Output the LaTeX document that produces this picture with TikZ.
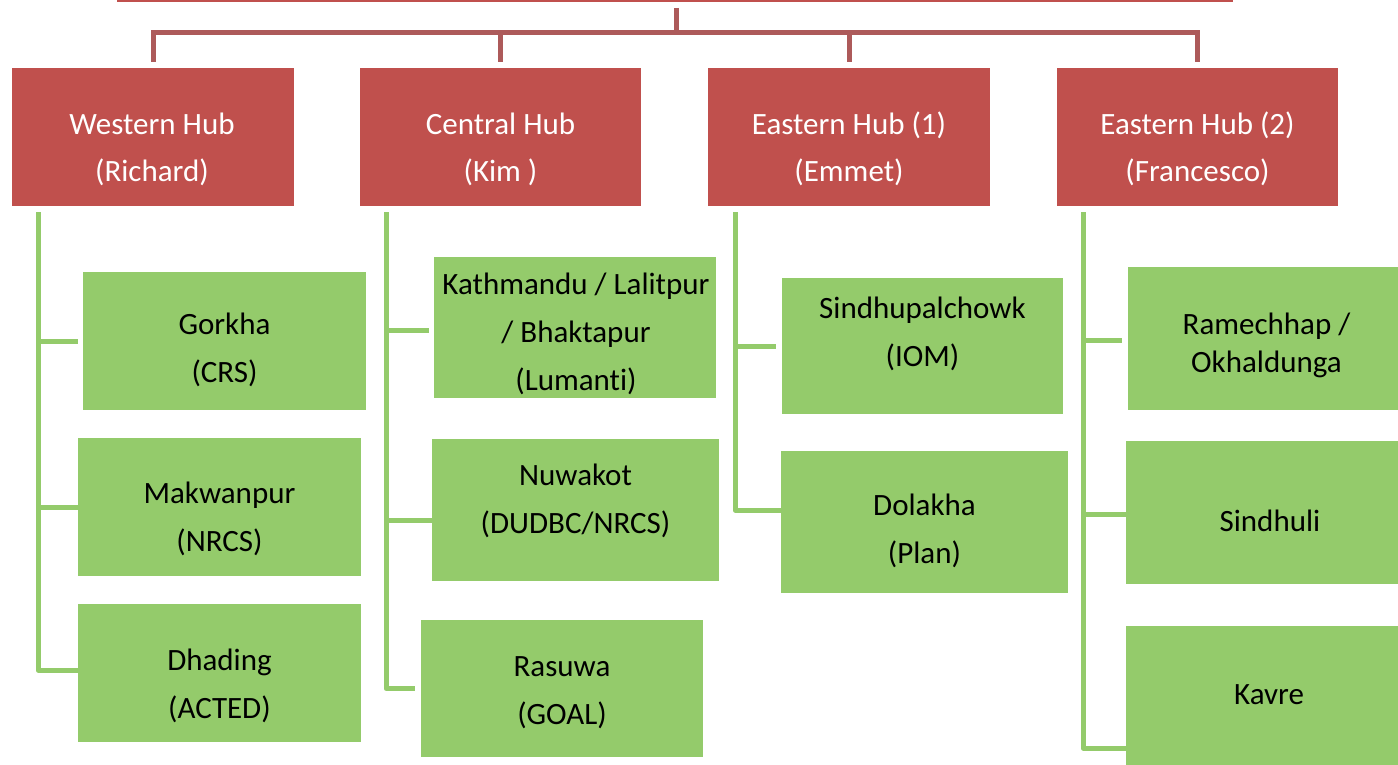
\documentclass[tikz,border=0pt]{standalone}
\usepackage{fontspec}
\setmainfont{Carlito}[Ligatures=NoCommon]
\definecolor{hubred}{HTML}{C0504D}
\definecolor{linered}{HTML}{AD5A5A}
\definecolor{leafgreen}{HTML}{94CB6B}
\begin{document}
\begin{tikzpicture}[x=1pt,y=-1pt,
  hubbox/.style={fill=hubred, draw=none, inner sep=0pt, anchor=center},
  leafbox/.style={fill=leafgreen, draw=none, inner sep=0pt, anchor=center},
  hubtext/.style={text=white, font=\fontsize{31}{47}\selectfont, align=center, inner sep=0pt},
  leaftext/.style={text=black, font=\fontsize{31}{48}\selectfont, align=center, inner sep=0pt},
  rline/.style={draw=linered, line width=5pt},
  gline/.style={draw=leafgreen, line width=5pt, line join=round}]
\useasboundingbox (0,0) rectangle (1398,765);

% top (cut-off) parent edge
\node[hubbox, minimum width=1116pt, minimum height=24pt] (root) at (675,-9.5) {};

% hubs
\node[hubbox, minimum width=282pt, minimum height=138pt] (hW) at (153,137) {};
\node[hubbox, minimum width=281pt, minimum height=138pt] (hC) at (500.5,137) {};
\node[hubbox, minimum width=282pt, minimum height=138pt] (hE) at (849,137) {};
\node[hubbox, minimum width=281pt, minimum height=138pt] (hF) at (1197.5,137) {};
\node[hubtext] (hWt) at (152,149) {Western Hub\\(Richard)};
\node[hubtext] (hCt) at (500.5,149) {Central Hub\\(Kim\ )};
\node[hubtext] (hEt) at (849,149) {Eastern Hub (1)\\(Emmet)};
\node[hubtext] (hFt) at (1197.5,149) {Eastern Hub (2)\\(Francesco)};

% red connectors
\coordinate (stem) at (676,8);
\coordinate (bus) at (676,33);
\draw[rline] (stem) -- (bus);
\draw[rline, shorten <=6pt, shorten >=6pt] (hW.north) |- (bus) -| (hF.north);
\draw[rline, shorten >=6pt] (bus) -| (hC.north);
\draw[rline, shorten >=6pt] (bus) -| (hE.north);

% western leaves
\node[leafbox, minimum width=283pt, minimum height=138pt] (W1) at (224.5,341) {};
\node[leafbox, minimum width=283pt, minimum height=138pt] (W2) at (219.5,507) {};
\node[leafbox, minimum width=283pt, minimum height=138pt] (W3) at (219.5,673) {};
\node[leaftext] (W1t) at (224.5,350) {Gorkha\\(CRS)};
\node[leaftext] (W2t) at (219.5,519) {Makwanpur\\(NRCS)};
\node[leaftext] (W3t) at (219.5,686) {Dhading\\(ACTED)};

% central leaves
\node[leafbox, minimum width=282pt, minimum height=141pt] (C1) at (575,327.5) {};
\node[leafbox, minimum width=287pt, minimum height=142pt] (C2) at (575.5,510) {};
\node[leafbox, minimum width=282pt, minimum height=137pt] (C3) at (562,688.5) {};
\node[leaftext] (C1t) at (576,334) {Kathmandu / Lalitpur\\/ Bhaktapur\\(Lumanti)};
\node[leaftext] (C2t) at (575.5,501) {Nuwakot\\(DUDBC/NRCS)};
\node[leaftext] (C3t) at (562,693) {Rasuwa\\(GOAL)};

% eastern (1) leaves
\node[leafbox, minimum width=281pt, minimum height=136pt] (E1) at (922.5,346) {};
\node[leafbox, minimum width=287pt, minimum height=142pt] (E2) at (924.5,522) {};
\node[leaftext] (E1t) at (922.5,334) {Sindhupalchowk\\(IOM)};
\node[leaftext] (E2t) at (924.5,531) {Dolakha\\(Plan)};

% eastern (2) leaves
\node[leafbox, minimum width=282pt, minimum height=143pt] (F1) at (1269,338.5) {};
\node[leafbox, minimum width=284pt, minimum height=143pt] (F2) at (1268,512.5) {};
\node[leafbox, minimum width=284pt, minimum height=144pt] (F3) at (1268,698) {};
\node[leaftext, font=\fontsize{31}{38}\selectfont] (F1t) at (1266.5,345) {Ramechhap /\\Okhaldunga};
\node[leaftext] (F2t) at (1270,521) {Sindhuli};
\node[leaftext] (F3t) at (1269,695) {Kavre};

% green connectors
\coordinate (wtop) at (38,212);
\draw[gline, shorten >=5pt] (wtop) |- (W1.west);
\draw[gline] (wtop) |- (W2.west);
\draw[gline] (wtop) |- ([yshift=3pt]W3.west);

\coordinate (ctop) at (386,212);
\draw[gline, shorten >=5pt] (ctop) |- ([yshift=-2.5pt]C1.west);
\draw[gline] (ctop) |- ([yshift=-10pt]C2.west);
\draw[gline, shorten >=6pt] (ctop) |- (C3.west);

\coordinate (etop) at (735,212);
\draw[gline, shorten >=6pt] (etop) |- (E1.west);
\draw[gline] (etop) |- ([yshift=12pt]E2.west);

\coordinate (ftop) at (1083,212);
\draw[gline, shorten >=6pt] (ftop) |- ([yshift=-1.5pt]F1.west);
\draw[gline] (ftop) |- ([yshift=-1.5pt]F2.west);
\draw[gline] (ftop) |- ([yshift=-50pt]F3.west);
\end{tikzpicture}
\end{document}
